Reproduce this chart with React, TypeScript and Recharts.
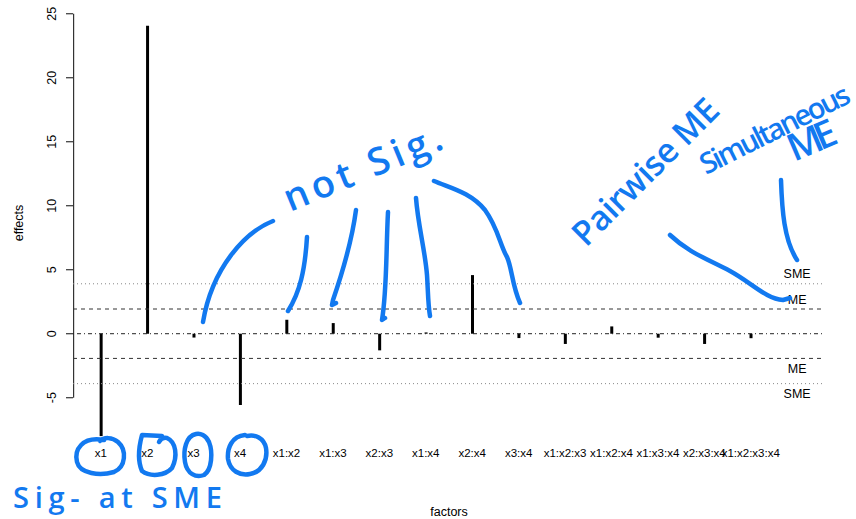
import React from 'react';
import { ComposedChart, Bar, XAxis, YAxis, ReferenceLine, ReferenceArea, Label } from 'recharts';

// factor effects
const factors = [
  'x1', 'x2', 'x3', 'x4', 'x1:x2', 'x1:x3', 'x2:x3', 'x1:x4', 'x2:x4', 'x3:x4',
  'x1:x2:x3', 'x1:x2:x4', 'x1:x3:x4', 'x2:x3:x4', 'x1:x2:x3:x4',
];
const effects = [-8.0, 24.06, -0.3, -5.57, 1.09, 0.83, -1.3, 0.1, 4.58, -0.34, -0.8, 0.57, -0.31, -0.8, -0.35];
const positions = [1, 2, 3, 4, 5, 6, 7, 8, 9, 10, 11, 12, 13, 14, 15];
const yTicks = [-5, 0, 5, 10, 15, 20, 25];
const xDomain = [0.4, 16.6];
const yDomain = [-9.32, 25.37];
const ME = 1.93;
const SME = 3.9;
const labelPos = 16;

const data = factors.map((name, i) => ({ pos: positions[i], name, effect: effects[i] }));

const FONT = '"Liberation Sans", Arial, Helvetica, sans-serif';
const BLUE = '#1279f0';
const HAND = '"Open Sans", "Noto Sans", sans-serif';

const YTick = (props: any) => {
  const { x, y, payload } = props;
  return (
    <text
      transform={`translate(${x - 10.5},${y}) rotate(-90)`}
      textAnchor="middle"
      fontFamily={FONT}
      fontSize={12.5}
      fill="#000"
    >
      {payload.value}
    </text>
  );
};

const XTick = (props: any) => {
  const { x, y, payload } = props;
  return (
    <text x={x} y={y} dy="0.35em" textAnchor="middle" fontFamily={FONT} fontSize={11.5} fill="#000">
      {factors[payload.value - 1]}
    </text>
  );
};

const lineLabel = (text: string, dy: number) => (props: any) => {
  const { viewBox } = props;
  const x = viewBox.x + (viewBox.width * (labelPos - xDomain[0])) / (xDomain[1] - xDomain[0]);
  return (
    <text x={x} y={viewBox.y + dy} textAnchor="middle" fontFamily={FONT} fontSize={12.5} fill="#000">
      {text}
    </text>
  );
};

// R-style y axis line: a 1px strip spanning only the tick range
const AxisStrip = (props: any) => {
  const { x, y, height } = props;
  return <rect x={x} y={y} width={1.2} height={height} fill="#333" />;
};

const Annotations = () => (
  <svg
    width={856}
    height={519}
    style={{ position: 'absolute', left: 0, top: 0, pointerEvents: 'none' }}
  >
    <g fill="none" stroke={BLUE} strokeWidth={4.5} strokeLinecap="round" strokeLinejoin="round">
      {/* circles around significant factors */}
      <path d="M104 440 C82 436 74 450 77 462 C80 474 100 476 114 472 C126 467 127 450 118 442 C112 437 104 437 100 441" />
      <path d="M162 436 L142 435 C138 450 138 462 142 471 C150 477 165 476 172 468 C178 456 176 442 167 438 C162 437 160 440 159 442" />
      <path d="M196 434 C186 436 183 450 185 462 C187 474 196 478 204 475 C212 470 213 452 209 442 C206 435 200 433 196 434" />
      <path d="M245 435 C232 436 227 448 228 459 C230 471 240 476 250 474 C262 472 268 460 266 448 C264 438 255 434 247 436" />
      {/* not sig. strokes */}
      <path d="M273 221 C245 232 212 268 203 322" />
      <path d="M307 237 C305 270 300 292 288 311" />
      <path d="M356 210 C352 240 344 268 333 300 L332 305 L336 303" />
      <path d="M388 212 C386 250 387 290 382 320 L385 318" />
      <path d="M416 198 C418 225 425 250 427 275 C428 290 428 305 430 316" />
      <path d="M434 181 C450 188 470 192 485 210 C498 228 500 245 507 257 C512 268 512 285 520 303" />
      {/* pairwise / simultaneous pointers */}
      <path d="M670 235 C688 252 705 258 730 271 C752 283 766 299 783 300 L790 298" />
      <path d="M781 180 C782 210 784 240 797 260" />
    </g>
    <g fill={BLUE} fontFamily={HAND} fontWeight={600}>
      <text x={13} y={508} fontSize={29} textLength={209} lengthAdjust="spacing">
        Sig- at SME
      </text>
      <text
        transform="translate(290,212) rotate(-22.4)"
        fontSize={38}
        textLength={168}
        lengthAdjust="spacing"
      >
        not Sig.
      </text>
      <text
        transform="translate(586,248) rotate(-45)"
        fontSize={34}
        textLength={192}
        lengthAdjust="spacing"
      >
        Pairwise ME
      </text>
      <text
        transform="translate(706,175) rotate(-26.6)"
        fontSize={29}
        textLength={164}
        lengthAdjust="spacing"
      >
        Simultaneous
      </text>
      <text
        transform="translate(794,162) rotate(-23)"
        fontSize={38}
        textLength={50}
        lengthAdjust="spacing"
      >
        ME
      </text>
    </g>
  </svg>
);

export default function App() {
  return (
    <div style={{ position: 'absolute', left: 0, top: 0, width: 856, height: 519, background: '#fff' }}>
      <ComposedChart width={856} height={519} data={data} margin={{ top: 9, right: 31, left: 0, bottom: 0 }}>
        <XAxis
          dataKey="pos"
          type="number"
          domain={xDomain}
          ticks={positions}
          allowDataOverflow
          axisLine={false}
          tickLine={false}
          tickSize={0}
          tickMargin={0}
          height={66}
          tick={<XTick />}
          interval={0}
        >
          <Label
            content={(props: any) => {
              const { viewBox } = props;
              return (
                <text
                  x={viewBox.x + viewBox.width / 2}
                  y={516}
                  textAnchor="middle"
                  fontFamily={FONT}
                  fontSize={12.5}
                  fill="#000"
                >
                  factors
                </text>
              );
            }}
          />
        </XAxis>
        <YAxis
          type="number"
          domain={yDomain}
          ticks={yTicks}
          allowDataOverflow
          width={73}
          axisLine={false}
          tickSize={7}
          tickMargin={0}
          tickLine={{ stroke: '#333', strokeWidth: 1.2 }}
          tick={<YTick />}
          interval={0}
        >
          <Label
            content={() => (
              <text
                transform="translate(22.5,223) rotate(-90)"
                textAnchor="middle"
                fontFamily={FONT}
                fontSize={12.5}
                fill="#000"
              >
                effects
              </text>
            )}
          />
        </YAxis>
        <ReferenceArea
          x1={xDomain[0]}
          x2={xDomain[0] + 0.05}
          y1={yTicks[0]}
          y2={yTicks[yTicks.length - 1]}
          ifOverflow="visible"
          shape={<AxisStrip />}
        />
        <ReferenceLine y={SME} stroke="#888" strokeDasharray="1 3" label={lineLabel('SME', -5.5)} />
        <ReferenceLine y={ME} stroke="#333" strokeDasharray="4 4" label={lineLabel('ME', -5.5)} />
        <ReferenceLine y={0} stroke="#222" strokeDasharray="1 3 4 3" />
        <ReferenceLine y={-ME} stroke="#333" strokeDasharray="4 4" label={lineLabel('ME', 14.8)} />
        <ReferenceLine y={-SME} stroke="#888" strokeDasharray="1 3" label={lineLabel('SME', 14.5)} />
        <Bar dataKey="effect" fill="#000" barSize={3} isAnimationActive={false} />
      </ComposedChart>
      <Annotations />
    </div>
  );
}
